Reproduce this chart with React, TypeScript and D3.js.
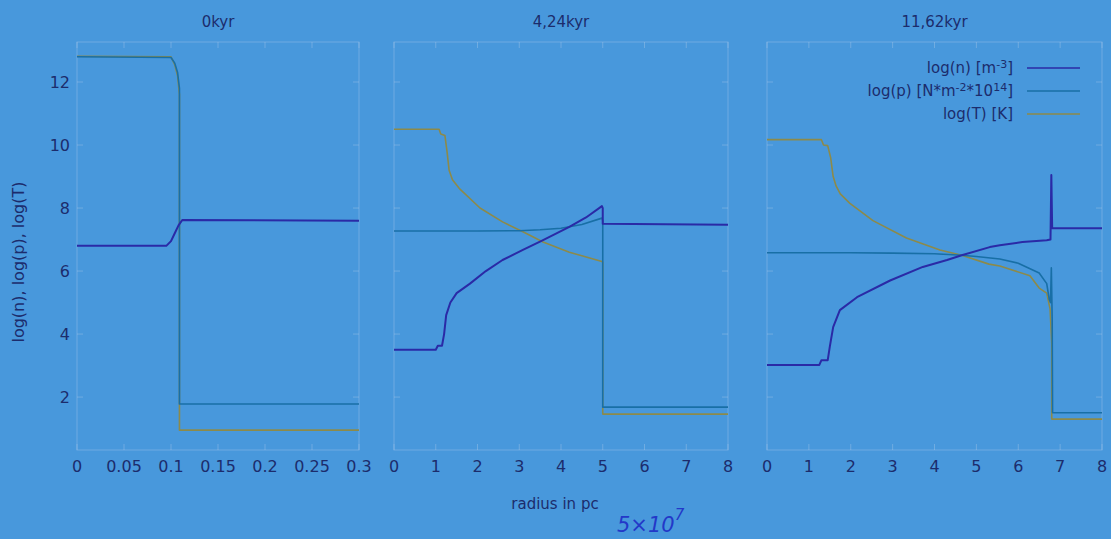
import React from "react";
import * as d3 from "d3";

// ---------- data ----------
const panelTitles = ["0kyr", "4,24kyr", "11,62kyr"];
const panelXMax = [0.3, 8, 8];
const xTicks1 = [0, 0.05, 0.1, 0.15, 0.2, 0.25, 0.3];
const xTicks23 = [0, 1, 2, 3, 4, 5, 6, 7, 8];
const yTicks = [2, 4, 6, 8, 10, 12];

// panel 1 (0 kyr)
const p1nX = [0, 0.095, 0.1, 0.104, 0.108, 0.112, 0.3];
const p1nY = [6.8, 6.8, 6.95, 7.2, 7.45, 7.62, 7.6];
const p1pX = [0, 0.1, 0.104, 0.107, 0.109, 0.109, 0.3];
const p1pY = [12.8, 12.78, 12.6, 12.3, 11.8, 1.78, 1.78];
const p1TX = [0, 0.1, 0.104, 0.107, 0.109, 0.109, 0.3];
const p1TY = [12.82, 12.8, 12.55, 12.2, 11.6, 0.95, 0.95];

// panel 2 (4.24 kyr)
const p2nX = [0, 1.0, 1.05, 1.15, 1.2, 1.25, 1.35, 1.5, 1.82, 2.2, 2.6, 3.1, 3.57, 4.2, 4.6, 4.98, 5.0, 5.0, 8];
const p2nY = [3.5, 3.5, 3.63, 3.63, 4.0, 4.6, 5.0, 5.3, 5.6, 6.0, 6.35, 6.68, 6.98, 7.4, 7.7, 8.06, 8.0, 7.5, 7.47];
const p2pX = [0, 1, 2, 3, 3.5, 4, 4.5, 4.98, 5.0, 5.0, 8];
const p2pY = [7.27, 7.27, 7.27, 7.28, 7.31, 7.36, 7.48, 7.68, 7.6, 1.68, 1.68];
const p2TX = [0, 1.08, 1.12, 1.22, 1.27, 1.32, 1.4, 1.58, 2.06, 2.6, 3.1, 3.57, 4.2, 4.98, 5.0, 5.0, 8];
const p2TY = [10.5, 10.5, 10.35, 10.3, 9.8, 9.2, 8.9, 8.6, 8.0, 7.56, 7.24, 6.92, 6.6, 6.3, 6.28, 1.46, 1.46];

// panel 3 (11.62 kyr)
const p3nX = [0, 1.25, 1.3, 1.45, 1.5, 1.58, 1.74, 2.15, 2.94, 3.72, 4.3, 4.65, 5.32, 5.56, 6.1, 6.68, 6.77, 6.79, 6.81, 6.83, 8];
const p3nY = [3.02, 3.02, 3.17, 3.17, 3.6, 4.22, 4.76, 5.17, 5.7, 6.13, 6.35, 6.5, 6.76, 6.82, 6.92, 6.98, 7.0, 9.05, 7.36, 7.36, 7.36];
const p3pX = [0, 2, 3, 4, 4.65, 5.0, 5.56, 6.0, 6.5, 6.68, 6.74, 6.77, 6.79, 6.81, 6.82, 8];
const p3pY = [6.58, 6.58, 6.57, 6.55, 6.5, 6.46, 6.38, 6.25, 5.94, 5.6, 5.1, 5.0, 6.1, 4.5, 1.5, 1.5];
const p3TX = [0, 1.3, 1.35, 1.45, 1.52, 1.58, 1.65, 1.75, 1.98, 2.53, 3.33, 4.13, 4.65, 5.3, 5.56, 6.28, 6.5, 6.68, 6.76, 6.8, 6.8, 8];
const p3TY = [10.17, 10.17, 10.0, 9.98, 9.6, 9.0, 8.7, 8.45, 8.15, 7.6, 7.05, 6.67, 6.5, 6.22, 6.16, 5.85, 5.46, 5.3, 4.8, 3.7, 1.3, 1.3];

const legendLabels = ["n", "p", "T"];

// ---------- styles ----------
const BG = "#4898dc";
const TEXT = "#1c2c6c";
const FRAME = "rgba(185,210,235,0.35)";
const COLORS: Record<string, string> = { n: "#2a2aa6", p: "#186fa6", T: "#8c8a4a" };
const FONT = "'DejaVu Sans', Verdana, sans-serif";

const panelRanges: [number, number][] = [
  [77, 359],
  [394, 728],
  [767, 1102],
];
const TOP = 42;
const BOTTOM = 450;

const panelSeries = [
  { n: [p1nX, p1nY], p: [p1pX, p1pY], T: [p1TX, p1TY] },
  { n: [p2nX, p2nY], p: [p2pX, p2pY], T: [p2TX, p2TY] },
  { n: [p3nX, p3nY], p: [p3pX, p3pY], T: [p3TX, p3TY] },
];

export default function App() {
  const y = d3.scaleLinear().domain([0.32, 13.27]).range([BOTTOM, TOP]);

  return (
    <div style={{ position: "absolute", left: 0, top: 0 }}>
      <svg width={1111} height={539} style={{ display: "block", background: BG }} fontFamily={FONT}>
        <rect x={0} y={0} width={1111} height={539} fill={BG} />
        {panelRanges.map((range, i) => {
          const x = d3.scaleLinear().domain([0, panelXMax[i]]).range(range);
          const ticks = i === 0 ? xTicks1 : xTicks23;
          const series = panelSeries[i] as Record<string, number[][]>;
          const line = d3
            .line<[number, number]>()
            .x((d) => x(d[0]))
            .y((d) => y(d[1]));
          const cx = (range[0] + range[1]) / 2;
          return (
            <g key={i}>
              <rect
                x={range[0]}
                y={TOP}
                width={range[1] - range[0]}
                height={BOTTOM - TOP}
                fill="none"
                stroke={FRAME}
                strokeWidth={1}
              />
              {ticks.map((t) => (
                <g key={"xt" + t}>
                  <line x1={x(t)} x2={x(t)} y1={BOTTOM} y2={BOTTOM - 6} stroke={FRAME} />
                  <line x1={x(t)} x2={x(t)} y1={TOP} y2={TOP + 6} stroke={FRAME} />
                  <text
                    x={x(t)}
                    y={472}
                    textAnchor="middle"
                    fontSize={16}
                    fill={TEXT}
                  >
                    {String(t)}
                  </text>
                </g>
              ))}
              {yTicks.map((t) => (
                <g key={"yt" + t}>
                  <line x1={range[0]} x2={range[0] + 6} y1={y(t)} y2={y(t)} stroke={FRAME} />
                  <line x1={range[1]} x2={range[1] - 6} y1={y(t)} y2={y(t)} stroke={FRAME} />
                  {i === 0 && (
                    <text x={70} y={y(t) + 6} textAnchor="end" fontSize={16} fill={TEXT}>
                      {t}
                    </text>
                  )}
                </g>
              ))}
              <text x={cx} y={27} textAnchor="middle" fontSize={15} fill={TEXT}>
                {panelTitles[i]}
              </text>
              {["T", "p", "n"].map((k) => {
                const [xs, ys] = series[k];
                const pts = xs.map((v, j) => [v, ys[j]] as [number, number]);
                return (
                  <path
                    key={k}
                    d={line(pts) || ""}
                    fill="none"
                    stroke={COLORS[k]}
                    strokeWidth={k === "n" ? 2 : 1.6}
                    strokeLinejoin="round"
                  />
                );
              })}
            </g>
          );
        })}

        {/* legend in panel 3 */}
        <g fontSize={15} fill={TEXT}>
          {legendLabels.map((k, i) => {
            const yy = 68 + i * 23;
            return (
              <g key={k}>
                <text x={1013} y={yy + 5} textAnchor="end">
                  {k === "n" && (
                    <>
                      log(n) [m<tspan fontSize={11} dy={-5}>-3</tspan>
                      <tspan dy={5}>]</tspan>
                    </>
                  )}
                  {k === "p" && (
                    <>
                      log(p) [N*m<tspan fontSize={11} dy={-5}>-2</tspan>
                      <tspan dy={5}>*10</tspan>
                      <tspan fontSize={11} dy={-5}>14</tspan>
                      <tspan dy={5}>]</tspan>
                    </>
                  )}
                  {k === "T" && <>log(T) [K]</>}
                </text>
                <line x1={1027} x2={1080} y1={yy} y2={yy} stroke={COLORS[k]} strokeWidth={1.6} />
              </g>
            );
          })}
        </g>

        <text
          transform="translate(24,262) rotate(-90)"
          textAnchor="middle"
          fontSize={16}
          fill={TEXT}
        >
          log(n), log(p), log(T)
        </text>
        <text x={555} y={509} textAnchor="middle" fontSize={15} fill={TEXT}>
          radius in pc
        </text>
        <text x={617} y={532} fontSize={21} fill="#2338c8" fontStyle="italic">
          5×10<tspan fontSize={15} dy={-12}>7</tspan>
        </text>
      </svg>
    </div>
  );
}
